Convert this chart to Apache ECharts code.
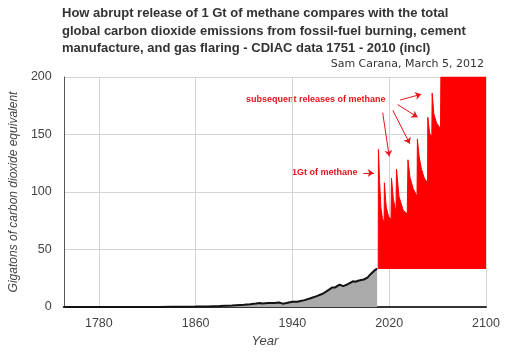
<!DOCTYPE html>
<html><head><meta charset="utf-8">
<script src="https://cdn.jsdelivr.net/npm/echarts@6/dist/echarts.min.js"></script>
<style>html,body{margin:0;padding:0;background:#fff}#c{width:510px;height:358px}</style>
</head><body><div id="c"></div>
<script>
// Historical CO2 emissions (Gt CO2), CDIAC 1751-2010
const co2Years  = [1751,1780,1800,1820,1830,1840,1850,1860,1870,1880,1890,1900,1905,1910,1913,1915,1920,1925,1929,1932,1935,1940,1944,1945,1950,1955,1960,1965,1970,1973,1975,1979,1982,1985,1990,1992,1995,1999,2002,2005,2008,2009,2010];
const co2Values = [0.01,0.02,0.03,0.05,0.1,0.15,0.2,0.34,0.5,0.87,1.3,1.96,2.4,3.0,3.5,3.1,3.4,3.5,3.9,2.9,3.4,4.6,4.5,3.7,6.0,7.6,9.5,11.5,14.9,17.0,16.9,19.5,18.1,19.4,22.3,22.0,23.1,23.9,25.5,29.0,31.9,31.6,33.4];

// Hypothetical methane releases (Gt CO2-equivalent)
const ch4Years  = [2010.9,2011.1,2012.0,2013.1,2014.4,2015.8,2016.0,2017.5,2019.3,2021.5,2021.9,2023.4,2025.6,2026.0,2028.1,2031.6,2034.9,2035.5,2037.1,2039.8,2043.0,2043.3,2044.7,2046.6,2049.0,2051.7,2051.9,2053.4,2055.2,2055.5,2056.9,2059.1,2062.4,2062.7,2100];
const ch4Values = [33,137,110,87,77,74,108,87,79,76,112,94,82,120,96,84,81,128,113,103,96,146,131,120,112,108,165,151,148,186,168,160,155,200,200];
const ch4Base = 33;

const xTicks = [1780,1860,1940,2020,2100];
const yMin = 0, yMax = 200, yStep = 50;

const titleText = 'How abrupt release of 1 Gt of methane compares with the total\nglobal carbon dioxide emissions from fossil-fuel burning, cement\nmanufacture, and gas flaring - CDIAC data 1751 - 2010 (incl)';
const subText = 'Sam Carana, March 5, 2012';
const labelSubsequent = 'subsequent releases of methane';
const label1Gt = '1Gt of methane';

// annotation arrows in data coordinates [year, value]
const arrows = [
  [[2029.0,180],[2046.5,185]],
  [[2027.0,176],[2043.5,165]],
  [[2023.0,171],[2037.0,142]],
  [[2014.6,169],[2020.0,131]],
  [[1998.6,116.5],[2007.2,116.5]]
];

const FONT = 'Liberation Sans, Arial, sans-serif';
const chart = echarts.init(document.getElementById('c'), null, {renderer:'canvas'});
chart.setOption({
  animation:false,
  backgroundColor:'#fff',
  title:[
    {text:titleText,left:62,top:5,padding:0,textStyle:{fontFamily:FONT,fontSize:13,fontWeight:'bold',color:'#333',lineHeight:17.5}},
    {text:subText,right:26,top:59,padding:0,textStyle:{fontFamily:'DejaVu Sans, Verdana, sans-serif',fontSize:11,fontWeight:'normal',color:'#333'}}
  ],
  grid:{left:59,right:24,top:77,bottom:51,containLabel:false},
  xAxis:{
    type:'value',min:1751,max:2100,
    name:'Year',nameLocation:'middle',nameGap:26,
    nameTextStyle:{fontFamily:FONT,fontSize:13,fontStyle:'italic',color:'#444',padding:[0,20,0,0]},
    axisLine:{show:true,onZero:false,lineStyle:{color:'#333',width:2}},
    axisTick:{show:false,customValues:xTicks},
    axisLabel:{customValues:xTicks,formatter:v=>String(v),fontFamily:FONT,fontSize:12.5,color:'#444',margin:10},
    splitLine:{show:true,lineStyle:{color:'#d4d4d4',width:1}}
  },
  yAxis:{
    type:'value',min:yMin,max:yMax,interval:yStep,
    name:'Gigatons of carbon dioxide equivalent',nameLocation:'middle',nameGap:40,
    nameTextStyle:{fontFamily:FONT,fontSize:12,fontStyle:'italic',color:'#444'},
    axisLine:{show:true,lineStyle:{color:'#555',width:1}},
    axisTick:{show:false},
    axisLabel:{fontFamily:FONT,fontSize:12.5,color:'#444',margin:12},
    splitLine:{show:true,lineStyle:{color:'#d4d4d4',width:1}}
  },
  series:[
    {
      type:'line',symbol:'none',
      data:co2Years.map((y,i)=>[y,co2Values[i]]),
      lineStyle:{color:'#111',width:2},
      areaStyle:{color:'#aaaaaa',opacity:1},
      z:3
    },
    {
      type:'line',symbol:'none',
      data:ch4Years.map((y,i)=>[y,ch4Values[i]]),
      lineStyle:{color:'#ff0000',width:1},
      areaStyle:{color:'#ff0000',opacity:1,origin:ch4Base},
      z:2,
      markLine:{
        silent:true,symbol:['none','arrow'],symbolSize:6,
        label:{show:false},
        lineStyle:{color:'#e8141c',width:1,type:'solid'},
        data:arrows.map(a=>[{coord:a[0]},{coord:a[1]}])
      }
    }
  ],
  graphic:[
    {type:'text',left:246,top:95,style:{text:labelSubsequent,fontFamily:FONT,fontSize:9,fontWeight:'bold',fill:'#e8141c'}},
    {type:'text',left:292,top:168,style:{text:label1Gt,fontFamily:FONT,fontSize:9,fontWeight:'bold',fill:'#e8141c'}}
  ]
});
</script></body></html>
